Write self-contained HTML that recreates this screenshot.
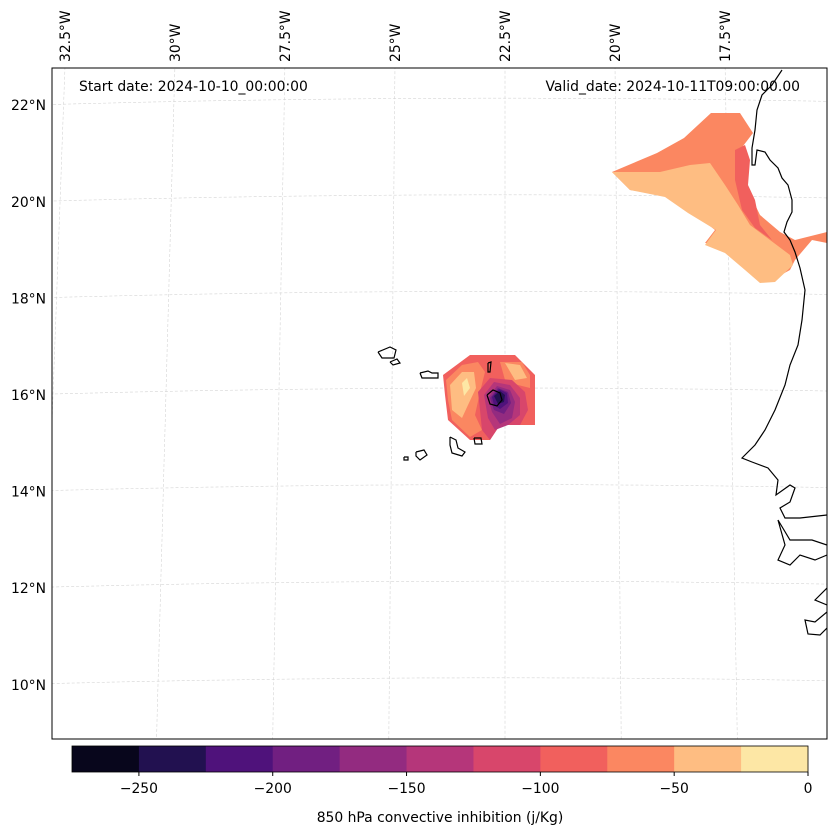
<!DOCTYPE html>
<html><head><meta charset="utf-8"><style>
body{margin:0;background:#fff;font-family:"DejaVu Sans",sans-serif}
svg{display:block}
text{font-family:"DejaVu Sans","Liberation Sans",sans-serif;font-size:13.9px;fill:#000}
</style></head><body>
<svg id="chart" width="837" height="836" viewBox="0 0 837 836">
<defs><clipPath id="mapclip"><rect x="52" y="68" width="775" height="671"/></clipPath></defs>
<g id="grid"></g>
<g id="fields" clip-path="url(#mapclip)"></g>
<g id="coast" clip-path="url(#mapclip)" fill="none" stroke="#000" stroke-width="1.2"></g>
<rect x="52" y="68" width="775" height="671" fill="none" stroke="#000" stroke-width="1"/>
<text x="79" y="91">Start date: 2024-10-10_00:00:00</text>
<text x="800" y="91" text-anchor="end">Valid_date: 2024-10-11T09:00:00.00</text>
<g id="cbar"></g>
<text x="440" y="822" text-anchor="middle">850 hPa convective inhibition (j/Kg)</text>
</svg>
<script>
const NS="http://www.w3.org/2000/svg";
const latTicks=[22,20,18,16,14,12,10];
const lonTicks=[-32.5,-30,-27.5,-25,-22.5,-20,-17.5];
const lonLabels=["32.5°W","30°W","27.5°W","25°W","22.5°W","20°W","17.5°W"];
const levels=[-275,-250,-225,-200,-175,-150,-125,-100,-75,-50,-25,0];
const levelColors=["#08061c","#221150","#4f127b","#711f81","#932b80","#b5367a","#d8466b","#f1605d","#fb8761","#febd82","#fde7a5"];
const cbTicks=[-250,-200,-150,-100,-50,0];
function px(lon,lat){return 505+(lon+22.5)*44*(1+(22.8-lat)*0.004);}
function py(lat,lon){return 395-(lat-16)*48.3-0.06*(lon+33.3)*(-11.7-lon);}
function el(t,a,p){const e=document.createElementNS(NS,t);for(const k in a)e.setAttribute(k,a[k]);(p||document.getElementById('chart')).appendChild(e);return e;}
const grid=document.getElementById('grid');
const gridLines=el('g',{'clip-path':'url(#mapclip)'},grid);
latTicks.forEach(lat=>{
 let d="";for(let lon=-35;lon<=-14;lon+=0.5){d+=(d?"L":"M")+px(lon,lat).toFixed(1)+","+py(lat,lon).toFixed(1);}
 const p=el('path',{d:d,fill:'none',stroke:'#d4d4d4','stroke-width':0.6,'stroke-dasharray':'3,2'},gridLines);
 
 const t=el('text',{x:46,y:py(lat,-33.3)+5,'text-anchor':'end'},grid);t.textContent=lat+"°N";
 
});
lonTicks.forEach((lon,i)=>{
 let d="";for(let lat=23.5;lat>=8.5;lat-=0.5){d+=(d?"L":"M")+px(lon,lat).toFixed(1)+","+py(lat,lon).toFixed(1);}
 const p=el('path',{d:d,fill:'none',stroke:'#d4d4d4','stroke-width':0.6,'stroke-dasharray':'3,2'},gridLines);
 
 const x=px(lon,22.8)+5;
 const t=el('text',{x:x,y:62,transform:`rotate(-90 ${x} 62)`},grid);t.textContent=lonLabels[i];
 
});
const fields=document.getElementById('fields');
const bands=[
 [8,"612,172 657,153 684,138 711,113 740,113 753,133 740,150 740,170 748,190 760,215 780,232 795,240 827,232 827,243 812,240 795,260 790,270 768,282 755,272 740,262 725,245 705,243 715,230 690,210 665,195 630,190"],
 [7,"735,150 745,145 750,160 748,185 755,200 760,225 772,240 755,228 742,210 735,180"],
 [9,"612,172 660,172 690,165 710,163 725,185 738,205 750,225 770,240 790,255 793,265 775,282 760,283 745,270 725,253 705,245 716,230 688,213 665,197 630,190"],
 [7,"443,375 470,355 515,355 535,375 535,425 500,425 490,440 470,440 448,420 445,395"],
 [8,"446,380 462,365 478,362 485,372 480,392 475,415 482,430 470,437 452,420 448,400"],
 [9,"450,385 462,372 474,372 476,388 468,405 462,418 452,410"],
 [10,"462,383 467,378 470,388 464,396"],
 [8,"500,362 522,362 530,375 530,388 518,385 505,380"],
 [9,"505,363 520,365 527,378 515,380"],
 [6,"478,392 490,378 512,380 525,392 528,410 520,425 500,425 490,440 482,430 480,410"],
 [5,"484,395 494,382 510,385 520,398 520,415 508,425 495,430 488,418"],
 [4,"488,398 497,386 510,390 515,402 512,418 500,424 492,412"],
 [3,"490,398 498,388 508,392 511,403 504,414 494,410"],
 [2,"492,397 499,389 507,393 508,403 500,409 494,405"],
 [1,"494,396 500,391 505,395 504,402 498,404"]
];
bands.forEach(b=>{const p=el('polygon',{points:b[1],fill:levelColors[b[0]]},fields);
 });
const coast=document.getElementById('coast');
const coasts=[
 "782,70 772,85 762,95 757,110 755,130 752,148 752,165 755,165 757,150 765,152 770,160 778,168 782,178 788,185 792,200 792,212 787,222 784,232 790,240 795,252 800,268 805,290 802,320 798,345 790,365 785,385 775,410 765,430 755,445 742,458 752,462 768,468 778,480 776,495 790,485 795,488 790,502 780,508 785,518 800,518 827,515",
 "827,545 812,540 790,540 778,520 785,545 778,560 790,565 800,555 815,560 827,555",
 "827,588 815,600 827,605",
 "827,612 815,622 805,620 808,634 820,635 827,628",
 "378,352 390,347 396,350 394,358 382,358 378,352",
 "390,362 397,359 400,363 393,365 390,362",
 "420,373 428,371 432,373 438,373 438,378 428,378 422,378 420,373",
 "488,363 491,362 490,372 488,372 488,363",
 "487,395 493,390 500,393 502,400 497,406 490,404 487,395",
 "450,437 456,440 458,448 465,452 462,456 452,453 450,445 450,437",
 "474,438 481,438 482,444 475,444 474,438",
 "416,452 424,450 427,455 420,460 416,456 416,452",
 "404,457 408,457 408,460 404,460 404,457"
];
coasts.forEach(c=>{const p=el('polyline',{points:c},coast);
 });
const cb=document.getElementById('cbar');
const cbx0=72,cbx1=808;
function cx(v){return cbx0+(v-levels[0])/(levels[levels.length-1]-levels[0])*(cbx1-cbx0);}
levelColors.forEach((c,i)=>{const r=el('rect',{x:cx(levels[i]),y:746,width:cx(levels[i+1])-cx(levels[i])+0.5,height:26,fill:c},cb);
 });
el('rect',{x:cbx0,y:746,width:cbx1-cbx0,height:26,fill:'none',stroke:'#000','stroke-width':0.8},cb);
cbTicks.forEach(v=>{
 const l=el('line',{x1:cx(v),x2:cx(v),y1:772,y2:776,stroke:'#000'},cb);
 
 const t=el('text',{x:cx(v),y:793,'text-anchor':'middle'},cb);t.textContent=v<0?"\u2212"+(-v):String(v);
 
});
</script>
</body></html>
